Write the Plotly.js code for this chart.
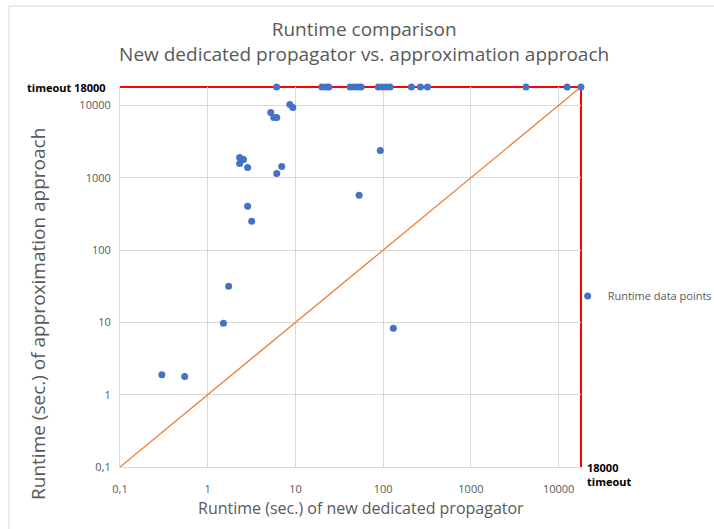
<!DOCTYPE html>
<html>
<head>
<meta charset="utf-8">
<script src="https://cdn.plot.ly/plotly-3.0.1.min.js"></script>
<style>html,body{margin:0;padding:0;background:#fff;}#chart{width:714px;height:529px;}</style>
</head>
<body>
<div id="chart"></div>
<script>
// Runtime (sec.) of new dedicated propagator
const newPropagator = [
  6.1, 20, 22.3, 24, 42, 46.7, 51.8, 56, 88, 97.7, 108, 120, 210, 266, 320, 4245, 12500, 18000,
  8.63, 9.33, 5.23, 5.66, 6.12, 2.31, 2.56, 2.31, 2.85, 6.98, 6.12, 92.7, 2.85, 3.17, 53.2,
  1.73, 1.51, 130.6, 0.30, 0.546
];
// Runtime (sec.) of approximation approach
const approximation = [
  18000, 18000, 18000, 18000, 18000, 18000, 18000, 18000, 18000, 18000, 18000, 18000, 18000, 18000, 18000, 18000, 18000, 18000,
  10300, 9380, 8000, 6830, 6830, 1914, 1795, 1580, 1392, 1437, 1150, 2390, 403, 250, 571,
  31.6, 9.75, 8.3, 1.88, 1.79
];
const timeout = 18000;
const minVal = 0.1;
const diagX = [minVal, timeout];
const diagY = [minVal, timeout];
const tickVals = [0.1, 1, 10, 100, 1000, 10000];
const tickText = ["0,1", "1", "10", "100", "1000", "10000"];

const font = "'Open Sans', sans-serif";
const gray = "#595959";

const traces = [
  {x: diagX, y: diagY, mode: "lines", line: {color: "#ED7D31", width: 1.3}, showlegend: false, hoverinfo: "skip"},
  {x: newPropagator, y: approximation, mode: "markers", name: "Runtime data points",
   marker: {color: "#4472C4", size: 7}, cliponaxis: false}
];

const axisCommon = {
  type: "log",
  range: [Math.log10(minVal), Math.log10(timeout)],
  tickvals: tickVals,
  ticktext: tickText,
  showgrid: true,
  gridcolor: "#d9d9d9",
  gridwidth: 1,
  zeroline: false,
  showline: true,
  linecolor: "#d9d9d9",
  linewidth: 1,
  ticks: "",
  tickfont: {family: font, size: 11, color: gray}
};

const layout = {
  width: 714, height: 529,
  paper_bgcolor: "#fff", plot_bgcolor: "#fff",
  margin: {l: 120, r: 133, t: 87, b: 62, autoexpand: false},
  title: {
    text: "Runtime comparison<br>New dedicated propagator vs. approximation approach",
    font: {family: font, size: 19, color: gray},
    x: 0.51, xanchor: "center", y: 1 - 36/529, yanchor: "middle", yref: "container"
  },
  xaxis: Object.assign({}, axisCommon, {ticklabelstandoff: 12}),
  yaxis: Object.assign({}, axisCommon, {ticklabelstandoff: 6}),
  legend: {
    x: 0.971, xanchor: "left", y: 0.45, yanchor: "middle",
    font: {family: font, size: 11, color: gray},
    bgcolor: "rgba(0,0,0,0)", itemwidth: 30
  },
  showlegend: true,
  annotations: [
    {text: "Runtime (sec.) of new dedicated propagator", xref: "paper", yref: "paper", x: 0.5228, y: -0.108,
     xanchor: "center", yanchor: "middle", showarrow: false, font: {family: font, size: 16, color: gray}},
    {text: "Runtime (sec.) of approximation approach", xref: "paper", yref: "paper", x: -0.178, y: 0.4026,
     xanchor: "center", yanchor: "middle", textangle: -90, showarrow: false, font: {family: font, size: 19, color: gray}},
    {text: "<b>timeout 18000</b>", xref: "paper", yref: "paper", x: -0.026, y: 1, xanchor: "right", yanchor: "middle",
     showarrow: false, font: {family: font, size: 11, color: "#000"}},
    {text: "<b>18000<br>timeout</b>", xref: "paper", yref: "paper", x: 1.008, y: 0.024, xanchor: "left", yanchor: "top",
     align: "left", showarrow: false, font: {family: font, size: 11, color: "#000"}}
  ],
  shapes: [
    {type: "rect", xref: "paper", yref: "paper", x0: -0.2408, x1: 1.35, y0: -0.2, y1: 1.2132,
     line: {color: "#d9d9d9", width: 1}, fillcolor: "rgba(0,0,0,0)", layer: "below"},
    // timeout lines at the top and right edges (axis ranges end at the timeout value)
    {type: "line", xref: "paper", yref: "paper", x0: 0, x1: 1, y0: 1, y1: 1,
     line: {color: "#FF0000", width: 2}, layer: "below"},
    {type: "line", xref: "paper", yref: "paper", x0: 1, x1: 1, y0: 0, y1: 1,
     line: {color: "#FF0000", width: 2}, layer: "below"}
  ]
};

Plotly.newPlot("chart", traces, layout, {displayModeBar: false, staticPlot: true});
</script>
</body>
</html>
